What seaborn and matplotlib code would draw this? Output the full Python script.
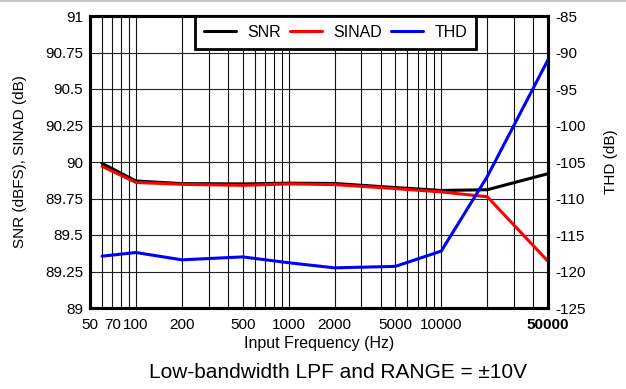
import matplotlib
matplotlib.use("Agg")
import matplotlib.pyplot as plt
import pandas as pd
import seaborn as sns
from matplotlib.lines import Line2D
from matplotlib.ticker import FixedLocator, FixedFormatter, LogLocator, NullFormatter

# Measured performance versus input frequency
freq = [60, 100, 200, 500, 1000, 2000, 5000, 10000, 20000, 50000]
snr = [89.99, 89.87, 89.852, 89.85, 89.855, 89.853, 89.825, 89.805, 89.81, 89.92]
sinad = [89.97, 89.86, 89.847, 89.84, 89.85, 89.845, 89.818, 89.795, 89.762, 89.32]
thd = [-117.9, -117.4, -118.4, -118.0, -118.8, -119.5, -119.3, -117.2, -107.0, -91.0]

x_ticks = [50, 70, 100, 200, 500, 1000, 2000, 5000, 10000, 50000]
x_tick_labels = ["50", "70", "100", "200", "500", "1000", "2000", "5000", "10000", "50000"]
left_ticks = [89, 89.25, 89.5, 89.75, 90, 90.25, 90.5, 90.75, 91]
left_tick_labels = ["89", "89.25", "89.5", "89.75", "90", "90.25", "90.5", "90.75", "91"]
right_ticks = [-125, -120, -115, -110, -105, -100, -95, -90, -85]
right_tick_labels = ["-125", "-120", "-115", "-110", "-105", "-100", "-95", "-90", "-85"]

sns.set_theme(style="white")
plt.rcParams["font.family"] = ["Liberation Sans", "DejaVu Sans"]
plt.rcParams["text.color"] = "black"

left_df = pd.DataFrame({
    "Frequency": freq * 2,
    "Value": snr + sinad,
    "Series": ["SNR"] * len(freq) + ["SINAD"] * len(freq),
})
thd_df = pd.DataFrame({"Frequency": freq, "Value": thd, "Series": ["THD"] * len(freq)})

fig = plt.figure(figsize=(6.26, 3.89), dpi=100)
ax = fig.add_axes([90 / 626, 1 - 308 / 389, 458 / 626, 292 / 389])

colors = {"SNR": "black", "SINAD": "#ff0000", "THD": "#0000ff"}
sns.lineplot(data=left_df, x="Frequency", y="Value", hue="Series", palette=colors,
             linewidth=2.2, ax=ax, legend=False, zorder=3)
ax.set_xscale("log")
ax.set_xlim(50, 50000)
ax.set_ylim(89, 91)

ax2 = ax.twinx()
sns.lineplot(data=thd_df, x="Frequency", y="Value", hue="Series", palette=colors,
             linewidth=2.2, ax=ax2, legend=False, zorder=3)
ax2.set_ylim(-125, -85)
ax2.set_xlim(50, 50000)

# Grid: every decade multiple vertically, every major tick horizontally
ax.xaxis.set_major_locator(FixedLocator(x_ticks))
ax.xaxis.set_major_formatter(FixedFormatter(x_tick_labels))
ax.xaxis.set_minor_locator(LogLocator(base=10, subs=range(1, 10), numticks=20))
ax.xaxis.set_minor_formatter(NullFormatter())
ax.set_yticks(left_ticks)
ax.set_yticklabels(left_tick_labels)
ax2.set_yticks(right_ticks)
ax2.set_yticklabels(right_tick_labels)

ax.grid(True, which="both", axis="x", color="#111111", linewidth=0.8)
ax.grid(True, which="major", axis="y", color="#222222", linewidth=0.8)
ax2.grid(False)
ax.set_axisbelow(True)

for a in (ax, ax2):
    for s in a.spines.values():
        s.set_color("black")
        s.set_linewidth(2.2)
    a.tick_params(which="both", length=0)

ax.tick_params(axis="x", labelsize=11, pad=7, colors="black")
ax.tick_params(axis="y", labelsize=11, pad=5, colors="black")
ax2.tick_params(axis="y", labelsize=11, pad=5, colors="black")
ax.get_xticklabels()[-1].set_fontweight("bold")

ax.set_xlabel("Input Frequency (Hz)", fontsize=11.5, labelpad=3, color="black")
ax.set_ylabel("SNR (dBFS), SINAD (dB)", fontsize=11, labelpad=13, color="black")
ax2.set_ylabel("THD (dB)", fontsize=11, labelpad=13, color="black")

handles = [Line2D([], [], color=colors[k], linewidth=2.2) for k in ("SNR", "SINAD", "THD")]
leg = ax2.legend(handles, ["SNR", "SINAD", "THD"], ncol=3, loc="upper center",
                 bbox_to_anchor=(0.536, 1.0), borderaxespad=0, fontsize=11.5,
                 frameon=True, fancybox=False, handlelength=2.0, handletextpad=0.7,
                 columnspacing=0.6, borderpad=0.55)
leg.get_frame().set_edgecolor("black")
leg.get_frame().set_linewidth(2.0)
leg.get_frame().set_alpha(1)

fig.text(338 / 626, 1 - 373 / 389, "Low-bandwidth LPF and RANGE = \u00b110V",
         ha="center", va="center", fontsize=15, color="black")
fig.add_artist(Line2D([0, 1], [0.998, 0.998], transform=fig.transFigure,
                      color="#c8c8c8", linewidth=1.5))

fig.savefig("out.png", dpi=100)
